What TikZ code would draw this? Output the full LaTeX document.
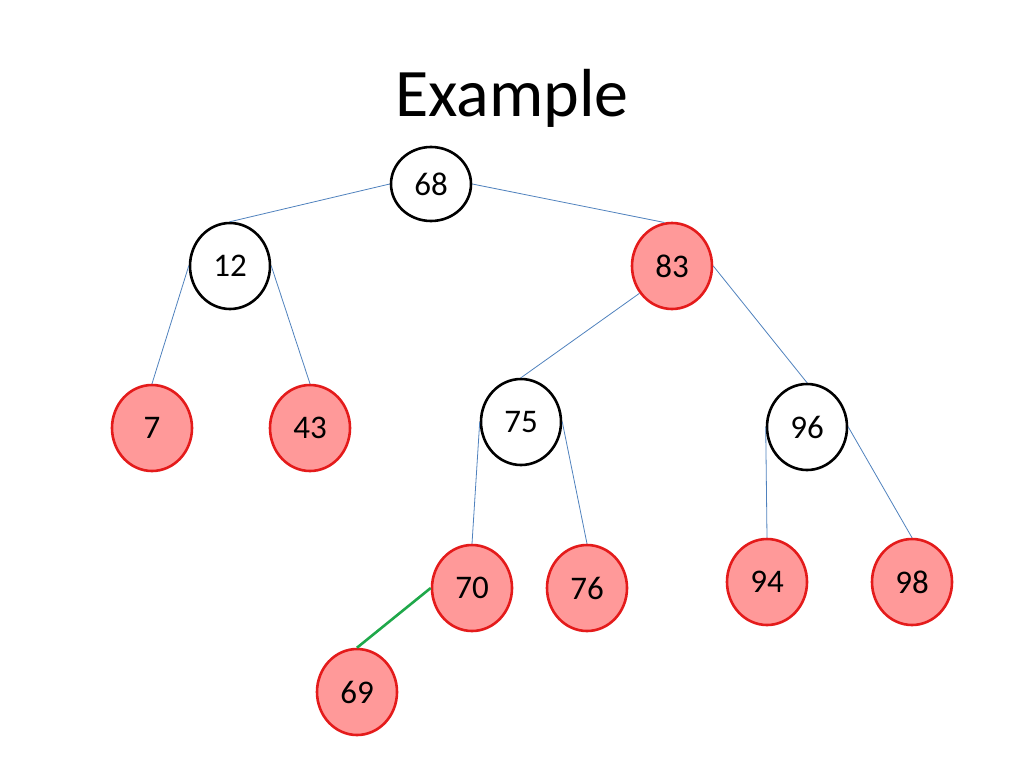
\documentclass[tikz,border=0pt]{standalone}
\usepackage{fontspec}
\setmainfont{Carlito}
\usetikzlibrary{shapes.geometric}
\definecolor{pinkfill}{HTML}{FF9999}
\definecolor{redline}{HTML}{E41B1B}
\definecolor{edgeblue}{HTML}{4F81BD}
\definecolor{greenedge}{HTML}{1FA84A}
\begin{document}
\begin{tikzpicture}[x=1pt,y=-1pt,
  treenode/.style={ellipse,draw=black,line width=2.6pt,fill=white,minimum width=80pt,minimum height=86pt,inner sep=0pt,font=\fontsize{33}{38}\selectfont},
  rednode/.style={treenode,draw=redline,fill=pinkfill},
  edge/.style={draw=edgeblue,line width=0.8pt},
  newedge/.style={draw=greenedge,line width=2.6pt}]
\useasboundingbox (0,0) rectangle (1024,768);
\node[font=\fontsize{68}{72}\selectfont] (title) at (512,98) {Example};
\node[treenode,minimum height=74pt] (n68) at (431,184) {68};
\node[treenode] (n12) at (230,266) {12};
\node[rednode] (n83) at (672,266) {83};
\node[rednode] (n7) at (152,428) {7};
\node[rednode] (n43) at (310,428) {43};
\node[treenode] (n75) at (521,422) {75};
\node[treenode] (n96) at (807,427) {96};
\node[rednode] (n70) at (472,588) {70};
\node[rednode] (n76) at (587,588) {76};
\node[rednode] (n94) at (767,582) {94};
\node[rednode] (n98) at (912,582) {98};
\node[rednode] (n69) at (357,692) {69};
\draw[edge] (n68.west) -- (n12.north);
\draw[edge] (n68.east) -- (n83.100);
\draw[edge] (n12.west) -- (n7.north);
\draw[edge] (n12.east) -- (n43.north);
\draw[edge] (n83.220) -- (n75.north);
\draw[edge] (n83.east) -- (n96.north);
\draw[edge] (n75.west) -- (n70.north);
\draw[edge] (n75.east) -- (n76.north);
\draw[edge] (n96.west) -- (n94.north);
\draw[edge] (n96.east) -- (n98.north);
\draw[newedge] (n70.west) -- (n69.north);
\end{tikzpicture}
\end{document}
